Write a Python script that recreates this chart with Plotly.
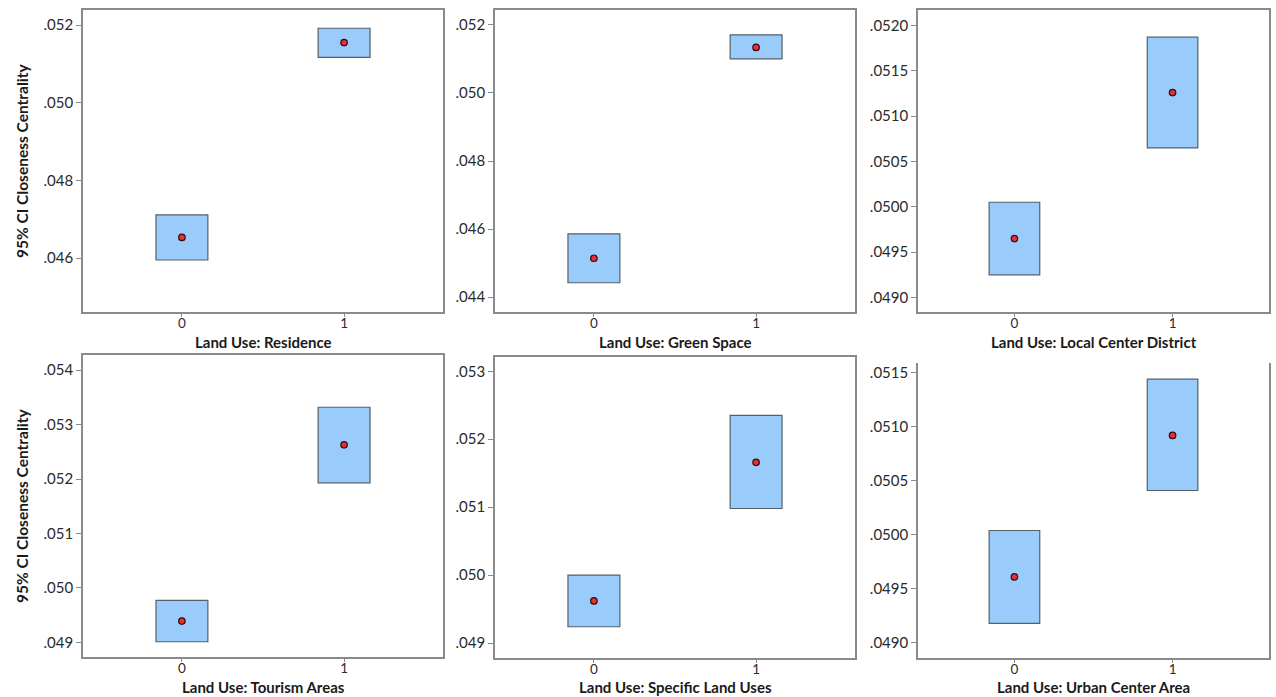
import plotly.graph_objects as go

# Land-use categories shown in the six panels
land_uses = ["Residence", "Green Space", "Local Center District",
             "Tourism Areas", "Specific Land Uses", "Urban Center Area"]
groups = [0, 1]

# 95% CI of closeness centrality (lower, upper) and group means, per land use
ci_lower = [
    [0.04595, 0.05117],
    [0.04442, 0.05100],
    [0.04925, 0.05065],
    [0.04901, 0.05193],
    [0.04924, 0.05098],
    [0.04918, 0.05041],
]
ci_upper = [
    [0.04711, 0.05192],
    [0.04586, 0.05171],
    [0.05005, 0.05187],
    [0.04977, 0.05332],
    [0.05000, 0.05235],
    [0.05004, 0.05144],
]
ci_mean = [
    [0.04653, 0.05155],
    [0.04514, 0.05134],
    [0.04965, 0.05126],
    [0.04939, 0.05263],
    [0.04962, 0.05166],
    [0.04961, 0.05092],
]

# y tick values / labels per panel
y_tickvals = [
    [0.046, 0.048, 0.050, 0.052],
    [0.044, 0.046, 0.048, 0.050, 0.052],
    [0.0490, 0.0495, 0.0500, 0.0505, 0.0510, 0.0515, 0.0520],
    [0.049, 0.050, 0.051, 0.052, 0.053, 0.054],
    [0.049, 0.050, 0.051, 0.052, 0.053],
    [0.0490, 0.0495, 0.0500, 0.0505, 0.0510, 0.0515],
]
y_ticktext = [
    [".046", ".048", ".050", ".052"],
    [".044", ".046", ".048", ".050", ".052"],
    [".0490", ".0495", ".0500", ".0505", ".0510", ".0515", ".0520"],
    [".049", ".050", ".051", ".052", ".053", ".054"],
    [".049", ".050", ".051", ".052", ".053"],
    [".0490", ".0495", ".0500", ".0505", ".0510", ".0515"],
]
y_ranges = [
    [0.04461, 0.05239],
    [0.04356, 0.05244],
    [0.04884, 0.05217],
    [0.04873, 0.05428],
    [0.04878, 0.05321],
    [0.04886, 0.05159],
]

W, H = 1276, 697
# panel boxes in pixels: (left, right, top, bottom)
panels_px = [
    (83, 443, 10, 312),
    (495, 855, 10, 312),
    (918, 1269, 10, 312),
    (83, 443, 355, 657),
    (495, 855, 357, 658),
    (918, 1269, 363, 658),
]

FONT = "Lato"
FRAME = "#8a8a8a"
BOX_FILL = "#99ccfb"
BOX_LINE = "#55606a"

fig = go.Figure()
layout = dict(
    width=W, height=H,
    margin=dict(l=0, r=0, t=0, b=0),
    paper_bgcolor="white", plot_bgcolor="white",
    showlegend=False,
    annotations=[],
)

for i, name in enumerate(land_uses):
    l, r, t, b = panels_px[i]
    xa = "x" if i == 0 else f"x{i+1}"
    ya = "y" if i == 0 else f"y{i+1}"
    xkey = "xaxis" if i == 0 else f"xaxis{i+1}"
    ykey = "yaxis" if i == 0 else f"yaxis{i+1}"

    heights = [u - lo for u, lo in zip(ci_upper[i], ci_lower[i])]
    fig.add_trace(go.Bar(
        x=groups, y=heights, base=ci_lower[i], width=0.32,
        marker=dict(color=BOX_FILL, line=dict(color=BOX_LINE, width=1.2)),
        xaxis=xa, yaxis=ya, hoverinfo="skip",
    ))
    fig.add_trace(go.Scatter(
        x=groups, y=ci_mean[i], mode="markers",
        marker=dict(color="#e5303c", size=6.5, line=dict(color="#3a0a0a", width=1.2)),
        xaxis=xa, yaxis=ya, hoverinfo="skip",
    ))

    no_top = (i == 5)
    layout[xkey] = dict(
        domain=[l / W, r / W], anchor=ya,
        range=[-0.61, 1.61], tickvals=groups, ticktext=["0", "1"],
        ticks="outside", ticklen=3, tickcolor=FRAME, tickwidth=1,
        ticklabelstandoff=-5,
        showline=True, linecolor=FRAME, linewidth=1.6,
        mirror=False if no_top else True,
        showgrid=False, zeroline=False, fixedrange=True,
        tickfont=dict(family=FONT, size=13.5, color="#2a2a2a"),
    )
    layout[ykey] = dict(
        domain=[1 - b / H, 1 - t / H], anchor=xa,
        range=y_ranges[i], tickvals=y_tickvals[i], ticktext=y_ticktext[i],
        ticks="outside", ticklen=5, tickcolor=FRAME, tickwidth=1,
        showline=True, linecolor=FRAME, linewidth=1.6, mirror=True,
        showgrid=False, zeroline=False, fixedrange=True,
        tickfont=dict(family=FONT, size=15, color="#2a2a2a"),
    )

    # x-axis title below each panel
    title_y = 342 if i < 3 else 687
    layout["annotations"].append(dict(
        text="<b>Land Use: " + name + "</b>",
        x=(l + r) / 2 / W, y=1 - title_y / H, xref="paper", yref="paper",
        xanchor="center", yanchor="middle", showarrow=False,
        font=dict(family=FONT, size=15, color="#1a1a1a"),
    ))

# y-axis title on the left column
for yc in (161, 506):
    layout["annotations"].append(dict(
        text="<b>95% CI Closeness Centrality</b>",
        x=22 / W, y=1 - yc / H, xref="paper", yref="paper",
        xanchor="center", yanchor="middle", showarrow=False, textangle=-90,
        font=dict(family=FONT, size=15.5, color="#1a1a1a"),
    ))

fig.update_layout(**layout)
fig.write_html("out.html")
